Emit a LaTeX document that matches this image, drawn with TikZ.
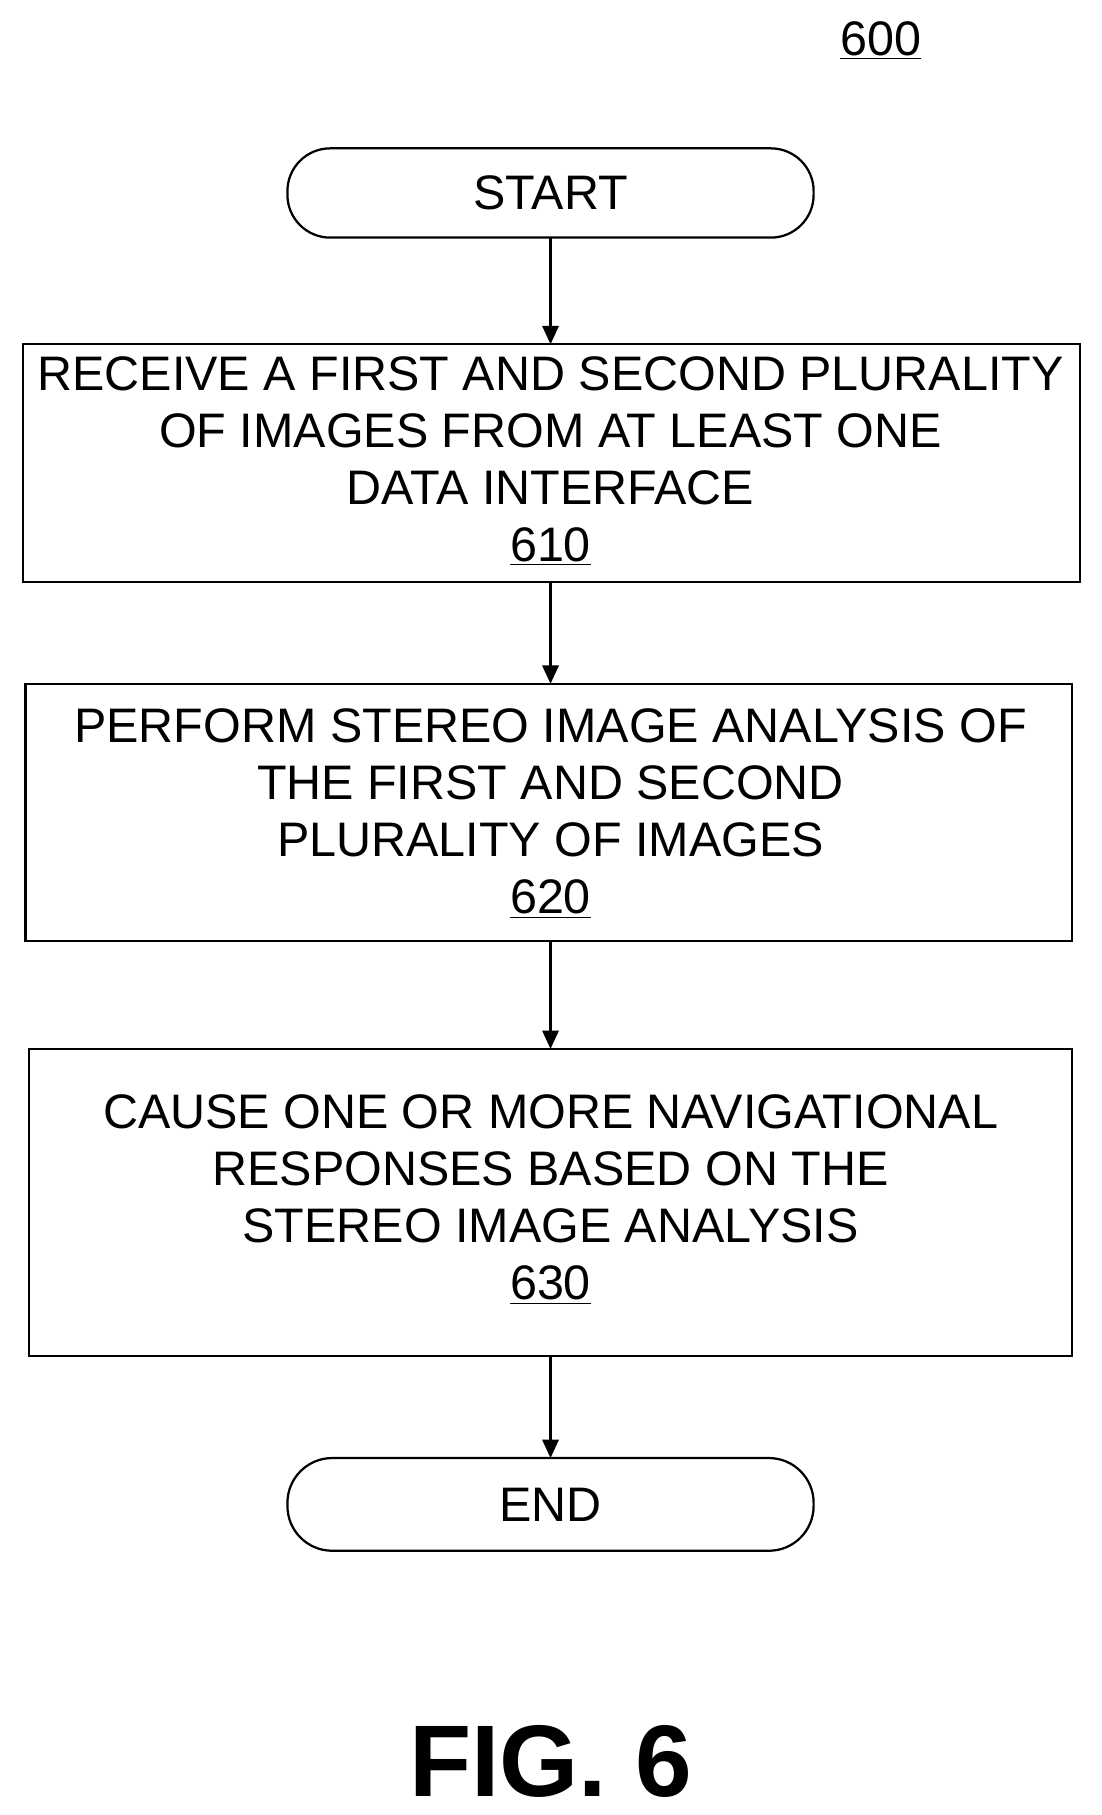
\documentclass[tikz,border=0pt]{standalone}
\usepackage{fontspec}
\setmainfont{Liberation Sans}
\usetikzlibrary{arrows.meta}
\begin{document}
\begin{tikzpicture}[x=0.02cm,y=-0.02cm,
  lbl/.style={font=\fontsize{23.8}{28}\selectfont,align=center},
  ln/.style={line width=1.1pt},
  arr/.style={ln,-{Triangle[length=9pt,width=8pt]}}]
\useasboundingbox (0,0) rectangle (950,1566);
\node[lbl] (num) at (760,35) {\underline{600}};
\draw[ln,rounded corners=21pt] (248,128) rectangle (702,205);
\node[lbl] (start) at (475,166) {START};
\coordinate (s) at (475,205);
\draw[ln] (20,297) rectangle (932,502);
\node[lbl] (b1) at (475,398) {RECEIVE A FIRST AND SECOND PLURALITY\\OF IMAGES FROM AT LEAST ONE\\DATA INTERFACE\\\underline{610}};
\draw[ln] (22,590) rectangle (925,812);
\node[lbl] (b2) at (475,702) {PERFORM STEREO IMAGE ANALYSIS OF\\THE FIRST AND SECOND\\PLURALITY OF IMAGES\\\underline{620}};
\draw[ln] (25,905) rectangle (925,1170);
\node[lbl] (b3) at (475,1035) {CAUSE ONE OR MORE NAVIGATIONAL\\RESPONSES BASED ON THE\\STEREO IMAGE ANALYSIS\\\underline{630}};
\draw[ln,rounded corners=22pt] (248,1258) rectangle (702,1338);
\node[lbl] (end) at (475,1298) {END};
\coordinate (t1) at (475,297); \coordinate (f1) at (475,502);
\coordinate (t2) at (475,590); \coordinate (f2) at (475,812);
\coordinate (t3) at (475,905); \coordinate (f3) at (475,1170);
\coordinate (t4) at (475,1258);
\draw[arr] (s) -- (t1);
\draw[arr] (f1) -- (t2);
\draw[arr] (f2) -- (t3);
\draw[arr] (f3) -- (t4);
\node[font=\fontsize{50}{60}\selectfont\bfseries] (fig) at (475,1520) {FIG. 6};
\end{tikzpicture}
\end{document}
